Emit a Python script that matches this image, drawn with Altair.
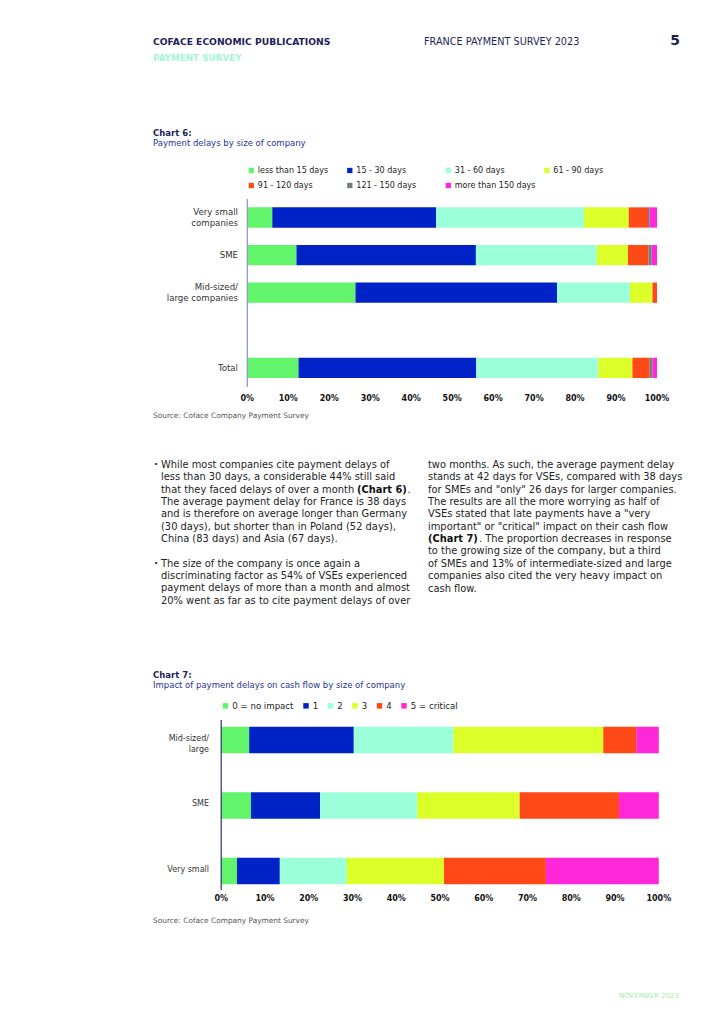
import altair as alt
import pandas as pd

# ---------------- data ----------------
delay_bands = ["less than 15 days", "15 - 30 days", "31 - 60 days", "61 - 90 days",
               "91 - 120 days", "121 - 150 days", "more than 150 days"]
delay_colors = ["#62f46a", "#0023c8", "#9bffd9", "#dcff2a", "#ff4a17", "#707b7b", "#ff27d8"]
chart6_rows = ["Very small companies", "SME", "Mid-sized/large companies", "Total"]
chart6_row_labels = ["Very small\ncompanies", "SME", "Mid-sized/\nlarge companies", "Total"]
delays_very_small = [6.1, 40.0, 36.1, 10.9, 4.7, 0.4, 1.8]
delays_sme = [12.0, 43.8, 29.5, 7.6, 5.0, 0.8, 1.3]
delays_mid_large = [26.4, 49.2, 17.8, 5.5, 1.1, 0.0, 0.0]
delays_total = [12.5, 43.4, 29.8, 8.3, 4.2, 0.7, 1.1]

impact_levels = ["0 = no impact", "1", "2", "3", "4", "5 = critical"]
impact_colors = ["#62f46a", "#0023c8", "#9bffd9", "#dcff2a", "#ff4a17", "#ff27d8"]
chart7_rows = ["Mid-sized/large", "SME", "Very small"]
chart7_row_labels = ["Mid-sized/\nlarge", "SME", "Very small"]
impact_mid_large = [6.4, 23.9, 22.8, 34.2, 7.6, 5.1]
impact_sme = [6.8, 15.8, 22.2, 23.4, 22.7, 9.1]
impact_very_small = [3.6, 9.8, 15.3, 22.2, 23.3, 25.8]

tick_values = [0, 10, 20, 30, 40, 50, 60, 70, 80, 90, 100]

FONT = "DejaVu Sans"
NAVY = "#1c1f5a"
ONE = pd.DataFrame({"k": [0]})


def page_text(s, x, y, size, color="#222222", weight="normal", align="left"):
    return alt.Chart(ONE).mark_text(
        font=FONT, fontSize=size, fontWeight=weight, color=color,
        align=align, baseline="middle"
    ).encode(x=alt.value(x - 8), y=alt.value(y - 8), text=alt.value(s))


# ---------------- chart 6 ----------------
rows6 = []
series6 = [delays_very_small, delays_sme, delays_mid_large, delays_total]
for r, vals in zip(chart6_rows, series6):
    for i, (b, v) in enumerate(zip(delay_bands, vals)):
        rows6.append({"row": r, "band": b, "idx": i, "value": v})
df6 = pd.DataFrame(rows6)

y6_domain = chart6_rows[:3] + [" "] + chart6_rows[3:]
x6 = alt.Scale(domain=[0, 100], range=[239.3, 649.0], nice=False, zero=True)
y6 = alt.Scale(domain=y6_domain, range=[190.7, 378.7], paddingInner=0.46, paddingOuter=0.23)

bars6 = alt.Chart(df6).mark_bar().encode(
    x=alt.X("value:Q", scale=x6, axis=None, stack="zero"),
    y=alt.Y("row:N", scale=y6, axis=None),
    color=alt.Color(
        "band:N",
        scale=alt.Scale(domain=delay_bands, range=delay_colors),
        legend=alt.Legend(
            title=None, orient="none", legendX=239.3, legendY=158.5,
            direction="horizontal", columns=4, gridAlign="all",
            columnPadding=6.5, rowPadding=7, padding=0,
            symbolType="square", symbolSize=28, symbolStrokeWidth=0,
            labelFont=FONT, labelFontSize=8, labelColor="#222222",
            labelOffset=2.5, labelLimit=200,
        ),
    ),
    order=alt.Order("idx:Q"),
)

lab6 = pd.DataFrame({"row": chart6_rows, "label": chart6_row_labels})
lab6_single = lab6[~lab6["label"].str.contains("\n")]
lab6_multi = lab6[lab6["label"].str.contains("\n")]

labels6_single = alt.Chart(lab6_single).mark_text(
    align="right", baseline="middle", font=FONT, fontSize=8.6, color="#333333"
).encode(
    y=alt.Y("row:N", scale=y6, axis=None),
    x=alt.value(230),
    text="label:N",
)
labels6_multi = alt.Chart(lab6_multi).mark_text(
    align="right", baseline="middle", font=FONT, fontSize=8.6,
    lineHeight=10.6, lineBreak="\n", color="#333333", dy=-5.3
).encode(
    y=alt.Y("row:N", scale=y6, axis=None),
    x=alt.value(230),
    text="label:N",
)

ticks_df = pd.DataFrame({"v": tick_values})
ticks6 = alt.Chart(ticks_df).transform_calculate(lbl="datum.v + '%'").mark_text(
    font=FONT, fontSize=8, fontWeight="bold", baseline="middle", color="#111111"
).encode(
    x=alt.X("v:Q", scale=x6, axis=None),
    y=alt.value(390.5),
    text="lbl:N",
)

axis6 = alt.Chart(pd.DataFrame({"v": [0]})).mark_rule(color="#8f9ac8", strokeWidth=1.3).encode(
    x=alt.X("v:Q", scale=x6, axis=None),
    y=alt.value(191),
    y2=alt.value(379),
)

chart6 = alt.layer(bars6, axis6, labels6_single, labels6_multi, ticks6)

# ---------------- chart 7 ----------------
rows7 = []
series7 = [impact_mid_large, impact_sme, impact_very_small]
for r, vals in zip(chart7_rows, series7):
    for i, (b, v) in enumerate(zip(impact_levels, vals)):
        rows7.append({"row7": r, "level": b, "idx7": i, "value7": v})
df7 = pd.DataFrame(rows7)

x7 = alt.Scale(domain=[0, 100], range=[213.2, 650.8], nice=False, zero=True)
y7 = alt.Scale(domain=chart7_rows, range=[699.25, 895.75], paddingInner=0.595, paddingOuter=0.2975)

bars7 = alt.Chart(df7).mark_bar().encode(
    x=alt.X("value7:Q", scale=x7, axis=None, stack="zero"),
    y=alt.Y("row7:N", scale=y7, axis=None),
    color=alt.Color(
        "level:N",
        scale=alt.Scale(domain=impact_levels, range=impact_colors),
        legend=alt.Legend(
            title=None, orient="none", legendX=213.2, legendY=693.5,
            direction="horizontal", columns=6, gridAlign="each",
            columnPadding=7.5, padding=0,
            symbolType="square", symbolSize=30, symbolStrokeWidth=0,
            labelFont=FONT, labelFontSize=8.6, labelColor="#222222",
            labelOffset=2.5, labelLimit=200,
        ),
    ),
    order=alt.Order("idx7:Q"),
)

lab7 = pd.DataFrame({"row7": chart7_rows, "label7": chart7_row_labels})
labels7 = alt.Chart(lab7).mark_text(
    align="right", baseline="middle", font=FONT, fontSize=8,
    lineHeight=11, lineBreak="\n", color="#333333", dy=-1.5
).encode(
    y=alt.Y("row7:N", scale=y7, axis=None),
    x=alt.value(201),
    text="label7:N",
)

ticks7 = alt.Chart(ticks_df).transform_calculate(lbl="datum.v + '%'").mark_text(
    font=FONT, fontSize=8, fontWeight="bold", baseline="middle", color="#111111"
).encode(
    x=alt.X("v:Q", scale=x7, axis=None),
    y=alt.value(891),
    text="lbl:N",
)

axis7 = alt.Chart(pd.DataFrame({"v": [0]})).mark_rule(color="#2b2f73", strokeWidth=1.2).encode(
    x=alt.X("v:Q", scale=x7, axis=None),
    y=alt.value(712),
    y2=alt.value(882),
)

chart7 = alt.layer(bars7, axis7, labels7, ticks7)

# ---------------- page texts ----------------
texts = [
    page_text("COFACE ECONOMIC PUBLICATIONS", 153, 42, 9.2, NAVY, "bold"),
    page_text("PAYMENT SURVEY", 153, 58, 8.8, "#a3f5da", "bold"),
    page_text("FRANCE PAYMENT SURVEY 2023", 424, 42, 9.7, NAVY),
    page_text("5", 675, 41, 14, NAVY, "bold", "center"),
    page_text("Chart 6:", 153, 132.5, 8.5, NAVY, "bold"),
    page_text("Payment delays by size of company", 153, 143.3, 8.5, "#263593"),
    page_text("Source: Coface Company Payment Survey", 153, 416, 7.4, "#555555"),
    page_text("Chart 7:", 153, 674.8, 8.5, NAVY, "bold"),
    page_text("Impact of payment delays on cash flow by size of company", 153, 684.8, 8.5, "#263593"),
    page_text("Source: Coface Company Payment Survey", 153, 921, 7.4, "#555555"),
    page_text("NOVEMBER 2023", 679, 996, 7, "#a3eea3", "normal", "right"),
]

BODY = 9.9
LH = 12.35
left_p1 = [
    "While most companies cite payment delays of",
    "less than 30 days, a considerable 44% still said",
    "that they faced delays of over a month",
    "The average payment delay for France is 38 days",
    "and is therefore on average longer than Germany",
    "(30 days), but shorter than in Poland (52 days),",
    "China (83 days) and Asia (67 days).",
]
left_p2 = [
    "The size of the company is once again a",
    "discriminating factor as 54% of VSEs experienced",
    "payment delays of more than a month and almost",
    "20% went as far as to cite payment delays of over",
]
right_col = [
    "two months. As such, the average payment delay",
    "stands at 42 days for VSEs, compared with 38 days",
    "for SMEs and \"only\" 26 days for larger companies.",
    "The results are all the more worrying as half of",
    "VSEs stated that late payments have a \"very",
    "important\" or \"critical\" impact on their cash flow",
    "",
    "to the growing size of the company, but a third",
    "of SMEs and 13% of intermediate-sized and large",
    "companies also cited the very heavy impact on",
    "cash flow.",
]

for i, line in enumerate(left_p1):
    texts.append(page_text(line, 161, 465 + i * LH, BODY))
for i, line in enumerate(left_p2):
    texts.append(page_text(line, 161, 563.5 + i * LH, BODY))
for i, line in enumerate(right_col):
    if line:
        texts.append(page_text(line, 428, 465 + i * LH, BODY))

texts += [
    page_text("·", 156, 465, BODY, "#222222", "bold", "center"),
    page_text("·", 156, 563.5, BODY, "#222222", "bold", "center"),
    page_text("(Chart 6)", 357, 465 + 2 * LH, BODY, "#111111", "bold"),
    page_text(".", 407.5, 465 + 2 * LH, BODY),
    page_text("(Chart 7)", 428, 465 + 6 * LH, BODY, "#111111", "bold"),
    page_text(". The proportion decreases in response", 479, 465 + 6 * LH, BODY),
]

chart = alt.layer(*texts, chart6, chart7).resolve_scale(
    x="independent", y="independent", color="independent"
).properties(
    width=700, height=1000, padding=0,
    autosize=alt.AutoSizeParams(type="none"),
).configure_view(stroke=None)

chart.save("out.html", embed_options={"renderer": "svg", "actions": False})
